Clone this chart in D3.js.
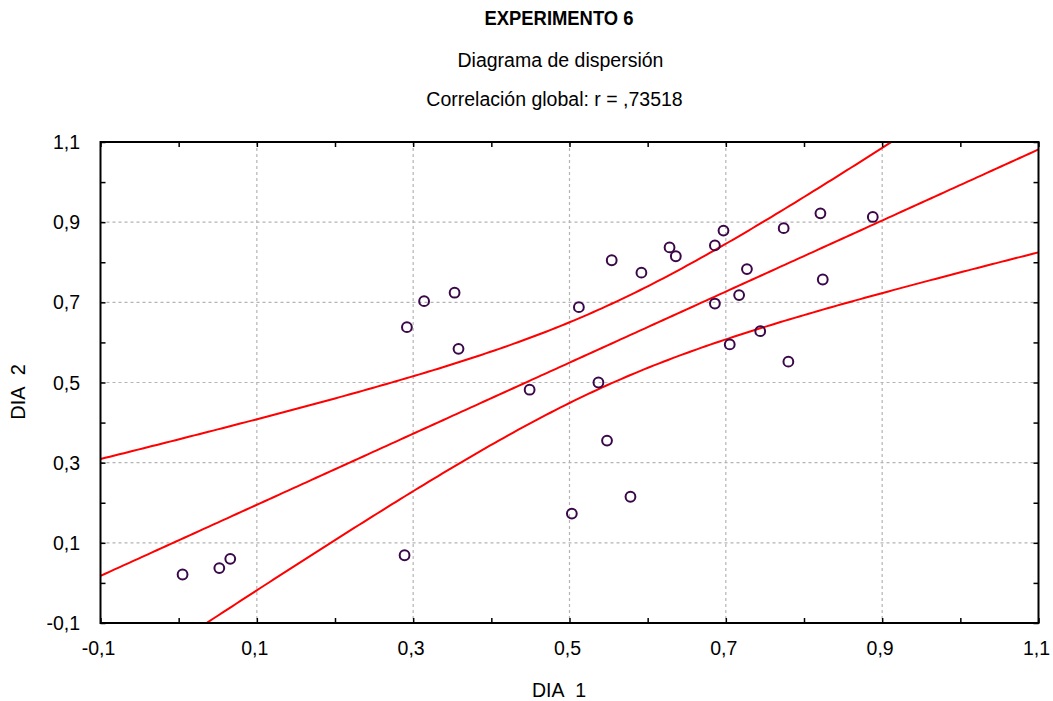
<!DOCTYPE html>
<html>
<head>
<meta charset="utf-8">
<script src="https://cdn.jsdelivr.net/npm/d3@7/dist/d3.min.js"></script>
<style>
  body { margin: 0; background: #fff; }
  text { font-family: "Liberation Sans", Arial, sans-serif; fill: #000; }
</style>
</head>
<body>
<svg id="chart" width="1053" height="701"></svg>
<script>
const titleText = "EXPERIMENTO 6";
const subtitleText = "Diagrama de dispersión";
const corrText = "Correlación global: r = ,73518";
const xLabel = "DIA\u00a0\u00a01";
const yLabel = "DIA\u00a0\u00a02";

const dia1 = [0.005, 0.052, 0.066, 0.289, 0.292, 0.314, 0.353, 0.358, 0.449, 0.512,
              0.537, 0.554, 0.592, 0.628, 0.636, 0.686, 0.697, 0.774, 0.821, 0.888,
              0.727, 0.717, 0.686, 0.824, 0.744, 0.705, 0.780, 0.548, 0.578, 0.503];
const dia2 = [0.021, 0.037, 0.060, 0.069, 0.638, 0.703, 0.724, 0.584, 0.482, 0.688,
              0.500, 0.805, 0.774, 0.837, 0.815, 0.842, 0.879, 0.885, 0.922, 0.913,
              0.783, 0.718, 0.697, 0.757, 0.628, 0.595, 0.552, 0.355, 0.215, 0.173];

const majorTicks = [-0.1, 0.1, 0.3, 0.5, 0.7, 0.9, 1.1];
const minorTicks = [0.0, 0.2, 0.4, 0.6, 0.8, 1.0];
const domain = [-0.1, 1.1];
const tCrit = 2.763; // 99% confidence band, df = 28

const svg = d3.select("#chart");
const L = 100.5, R = 1038.5, T = 142, B = 623;
const x = d3.scaleLinear().domain(domain).range([L, R]);
const y = d3.scaleLinear().domain(domain).range([B, T]);
const fmt = v => d3.format(".1f")(v).replace("\u2212", "-").replace(".", ",");

// titles
svg.append("text").attr("x", 559).attr("y", 25).attr("text-anchor", "middle")
  .attr("textLength", 149).attr("lengthAdjust", "spacingAndGlyphs")
  .style("font-size", "20px").style("font-weight", "bold").text(titleText);
svg.append("text").attr("x", 560.5).attr("y", 67).attr("text-anchor", "middle")
  .style("font-size", "19.5px").text(subtitleText);
svg.append("text").attr("x", 554.5).attr("y", 106).attr("text-anchor", "middle")
  .style("font-size", "19.5px").text(corrText);

// grid
const grid = svg.append("g");
grid.selectAll("line.gx").data(majorTicks.slice(1, -1)).join("line")
  .attr("class", "gx")
  .attr("x1", d => x(d)).attr("x2", d => x(d)).attr("y1", T).attr("y2", B)
  .attr("stroke", "#b4b4b4").attr("stroke-width", 1.2).attr("stroke-dasharray", "3,3");
grid.selectAll("line.gy").data(majorTicks.slice(1, -1)).join("line")
  .attr("class", "gy")
  .attr("y1", d => y(d)).attr("y2", d => y(d)).attr("x1", L).attr("x2", R)
  .attr("stroke", "#b4b4b4").attr("stroke-width", 1.2).attr("stroke-dasharray", "3,3");

// regression
const n = dia1.length;
const xm = d3.mean(dia1), ym = d3.mean(dia2);
let sxx = 0, sxy = 0;
for (let i = 0; i < n; i++) { sxx += (dia1[i]-xm)**2; sxy += (dia1[i]-xm)*(dia2[i]-ym); }
const b1 = sxy / sxx, b0 = ym - b1 * xm;
let sse = 0;
for (let i = 0; i < n; i++) { sse += (dia2[i] - (b0 + b1*dia1[i]))**2; }
const s = Math.sqrt(sse / (n - 2));
const xs = d3.range(0, 201).map(i => domain[0] + (domain[1]-domain[0]) * i / 200);
const fit = v => b0 + b1 * v;
const half = v => tCrit * s * Math.sqrt(1/n + (v-xm)**2 / sxx);

svg.append("clipPath").attr("id", "clip").append("rect")
  .attr("x", L).attr("y", T).attr("width", R-L).attr("height", B-T);
const lineGen = f => d3.line().x(d => x(d)).y(d => y(f(d)))(xs);
const lines = svg.append("g").attr("clip-path", "url(#clip)");
[fit, v => fit(v) + half(v), v => fit(v) - half(v)].forEach(f => {
  lines.append("path").attr("d", lineGen(f)).attr("fill", "none")
    .attr("stroke", "#ff0000").attr("stroke-width", 2);
});

// points
svg.append("g").selectAll("circle").data(dia1).join("circle")
  .attr("cx", d => x(d)).attr("cy", (d, i) => y(dia2[i])).attr("r", 4.9)
  .attr("fill", "none").attr("stroke", "#3a0848").attr("stroke-width", 2);

// axes with inward ticks
const allTicks = majorTicks.concat(minorTicks);
const axB = svg.append("g").attr("transform", `translate(0,${B})`)
  .call(d3.axisBottom(x).tickValues(allTicks).tickSize(-5).tickFormat(""));
const axT = svg.append("g").attr("transform", `translate(0,${T})`)
  .call(d3.axisTop(x).tickValues(allTicks).tickSize(-5).tickFormat(""));
const axL = svg.append("g").attr("transform", `translate(${L},0)`)
  .call(d3.axisLeft(y).tickValues(allTicks).tickSize(-5).tickFormat(""));
const axR = svg.append("g").attr("transform", `translate(${R},0)`)
  .call(d3.axisRight(y).tickValues(allTicks).tickSize(-5).tickFormat(""));
[axB, axT, axL, axR].forEach(g => {
  g.select(".domain").remove();
  g.selectAll(".tick line").attr("stroke", "#000").attr("stroke-width", 1.5);
});

// frame
svg.append("rect").attr("x", L).attr("y", T).attr("width", R-L).attr("height", B-T)
  .attr("fill", "none").attr("stroke", "#000").attr("stroke-width", 2);

// tick labels
svg.append("g").selectAll("text").data(majorTicks).join("text")
  .attr("x", d => x(d) - 2).attr("y", 655).attr("text-anchor", "middle")
  .style("font-size", "19.5px").text(fmt);
svg.append("g").selectAll("text").data(majorTicks).join("text")
  .attr("x", 80).attr("y", d => y(d) + 7).attr("text-anchor", "end")
  .style("font-size", "19.5px").text(fmt);

// axis titles
svg.append("text").attr("x", 559).attr("y", 697).attr("text-anchor", "middle")
  .style("font-size", "19.5px").text(xLabel);
svg.append("text").attr("transform", "translate(25,392) rotate(-90)").attr("text-anchor", "middle")
  .style("font-size", "20px").text(yLabel);
</script>
</body>
</html>
